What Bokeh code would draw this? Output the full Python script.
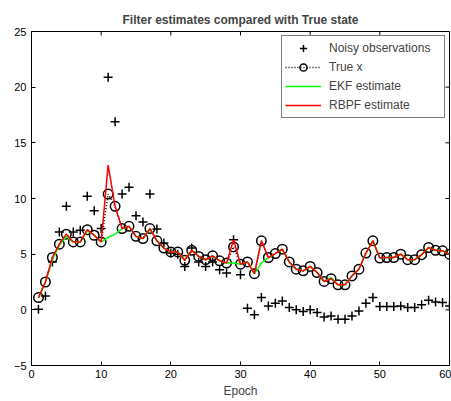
import math
from bokeh.plotting import figure
from bokeh.models import Legend, LegendItem, FixedTicker, Title
from bokeh.embed import file_html
from bokeh.resources import INLINE

epoch = list(range(1, 61))
true_x = [1.1, 2.5, 4.7, 5.9, 6.8, 6.1, 6.1, 7.2, 6.7, 6.1,
          10.4, 9.3, 7.3, 7.5, 6.6, 6.4, 7.3, 6.2, 5.55, 5.2,
          5.2, 4.45, 5.35, 4.8, 4.5, 4.85, 4.4, 4.2, 5.65, 4.1,
          4.3, 3.25, 6.2, 4.7, 5.05, 5.45, 4.3, 3.65, 3.5, 3.9,
          3.35, 2.55, 2.8, 2.25, 2.25, 3.05, 3.65, 5.1, 6.2, 4.65,
          4.7, 4.7, 5.0, 4.5, 4.5, 4.95, 5.6, 5.35, 5.3, 5.0]
noisy_obs = [0.05, 1.25, 4.3, 7.0, 9.3, 7.0, 7.15, 10.2, 8.9, 7.3,
             20.9, 16.9, 10.4, 11.0, 8.45, 7.9, 10.4, 7.25, 6.0, 5.1,
             5.0, 3.9, 5.55, 4.3, 3.9, 4.3, 3.6, 3.3, 6.3, 3.15,
             0.15, -0.45, 1.1, 0.35, 0.6, 0.8, 0.2, 0.0, -0.15, 0.0,
             -0.25, -0.65, -0.55, -0.85, -0.85, -0.55, -0.1, 0.6, 1.1, 0.3,
             0.3, 0.3, 0.35, 0.2, 0.2, 0.45, 0.85, 0.7, 0.65, 0.35]
ekf_est = [1.1, 2.5, 4.5, 5.8, 6.6, 6.1, 6.1, 7.1, 6.7, 6.1,
           6.5, 6.8, 7.3, 7.5, 6.6, 6.4, 7.3, 6.2, 5.55, 5.2,
           5.2, 4.45, 5.35, 4.8, 4.5, 4.85, 4.4, 4.2, 4.2, 4.1,
           4.3, 3.25, 4.2, 4.7, 5.05, 5.45, 4.3, 3.65, 3.5, 3.9,
           3.35, 2.55, 2.9, 2.25, 2.25, 3.05, 3.65, 5.1, 6.2, 4.65,
           4.7, 4.7, 5.0, 4.5, 4.5, 4.95, 5.6, 5.35, 5.3, 5.0]
rbpf_est = [1.1, 2.5, 4.7, 5.9, 6.8, 6.1, 6.1, 7.2, 6.7, 6.1,
            13.0, 9.3, 7.3, 7.5, 6.6, 6.4, 7.3, 6.2, 5.55, 5.2,
            5.2, 4.45, 5.35, 4.8, 4.5, 4.85, 4.4, 4.2, 6.3, 4.1,
            4.3, 3.25, 6.2, 4.7, 5.05, 5.45, 4.3, 3.65, 3.5, 3.9,
            3.35, 2.55, 2.8, 2.25, 2.25, 3.05, 3.65, 5.1, 6.2, 4.65,
            4.7, 4.7, 5.0, 4.5, 4.5, 4.95, 5.6, 5.35, 5.3, 5.0]
x_ticks = [0, 10, 20, 30, 40, 50, 60]
y_ticks = [-5, 0, 5, 10, 15, 20, 25]
x_min, x_max = 0, 60
y_min, y_max = -5, 25

FONT = "Liberation Sans"

p = figure(width=451, height=401, x_range=(x_min, x_max), y_range=(y_min, y_max),
           output_backend="svg", toolbar_location=None,
           min_border_left=31, min_border_right=2, min_border_top=31,
           min_border_bottom=36)
p.title = None
p.add_layout(Title(text="Filter estimates compared with True state",
                   text_font=FONT, text_font_size="12px", text_font_style="bold",
                   align="center", standoff=10), "above")
p.grid.visible = False
p.outline_line_color = "black"
p.outline_line_width = 1
p.background_fill_color = "white"
p.border_fill_color = "white"

for ax in (p.xaxis[0], p.yaxis[0]):
    ax.major_tick_in = 4
    ax.major_tick_out = 0
    ax.minor_tick_line_color = None
    ax.axis_line_color = "black"
    ax.major_tick_line_color = "black"
    ax.major_label_text_font = FONT
    ax.major_label_text_font_size = "11px"
    ax.major_label_text_color = "black"
p.xaxis[0].ticker = FixedTicker(ticks=x_ticks)
p.yaxis[0].ticker = FixedTicker(ticks=y_ticks)
p.xaxis[0].major_label_standoff = 4
p.yaxis[0].major_label_standoff = 5
p.xaxis[0].axis_label = "Epoch"
p.xaxis[0].axis_label_text_font = FONT
p.xaxis[0].axis_label_text_font_size = "12px"
p.xaxis[0].axis_label_text_font_style = "normal"
p.xaxis[0].axis_label_standoff = 3

# mirrored inward ticks on the top and right edges (clipped to the frame)
p.scatter(x_ticks, [y_max] * len(x_ticks), marker="dash", angle=math.pi / 2,
          size=8, line_color="black", line_width=1)
p.scatter([x_max] * len(y_ticks), y_ticks, marker="dash",
          size=8, line_color="black", line_width=1)

r_obs = p.scatter(epoch, noisy_obs, marker="cross", size=9, line_color="black", line_width=1.5)
r_true_line = p.line(epoch, true_x, line_color="black", line_dash="1 2", line_width=1.5)
r_true_pts = p.scatter(epoch, true_x, marker="circle", size=9.5, line_color="black",
                       fill_color=None, line_width=1.5)
r_ekf = p.line(epoch, ekf_est, line_color="#00ff00", line_width=1.5)
r_rbpf = p.line(epoch, rbpf_est, line_color="#ff0000", line_width=1.5)

legend = Legend(items=[
    LegendItem(label="Noisy observations", renderers=[r_obs]),
    LegendItem(label="True x", renderers=[r_true_line, r_true_pts]),
    LegendItem(label="EKF estimate", renderers=[r_ekf]),
    LegendItem(label="RBPF estimate", renderers=[r_rbpf]),
], location="top_right")
legend.margin = 4
legend.padding = 3
legend.spacing = 1
legend.label_height = 18
legend.glyph_height = 18
legend.glyph_width = 36
legend.label_width = 112
legend.label_standoff = 8
legend.label_text_font = FONT
legend.label_text_font_size = "12px"
legend.border_line_color = "black"
legend.border_line_width = 1
legend.background_fill_alpha = 1
p.add_layout(legend, "center")

open("out.html", "w").write(file_html(p, INLINE))
